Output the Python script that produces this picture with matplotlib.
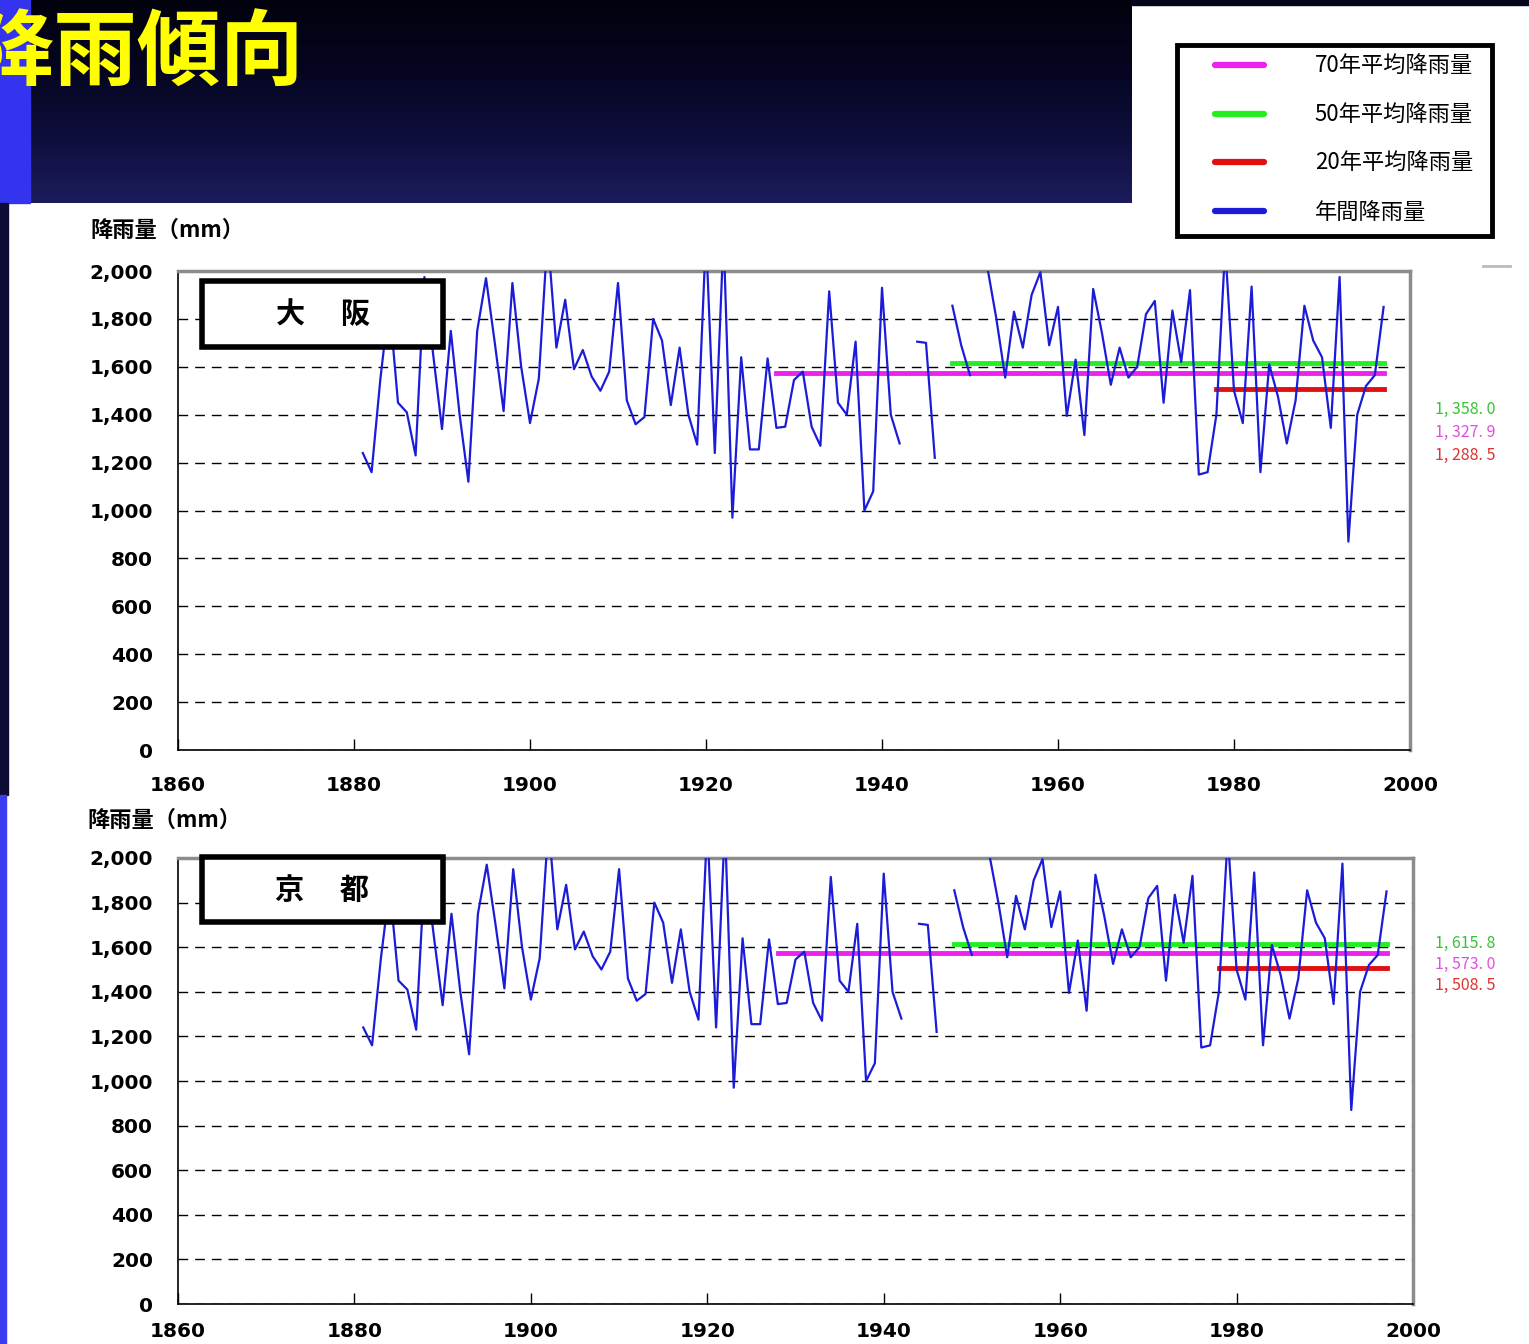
import numpy as np
import matplotlib
matplotlib.use("Agg")
import matplotlib.pyplot as plt
from matplotlib.colors import LinearSegmentedColormap
from matplotlib.patches import Rectangle

plt.rcParams['font.family'] = ['Noto Sans CJK JP', 'DejaVu Sans']

# yearly rainfall (mm), NaN = missing year
years = list(range(1881, 1998))
rain = [1240, 1160, 1550, 1870, 1450, 1410, 1230, 1975, 1650, 1340,
        1750, 1400, 1120, 1750, 1970, 1700, 1415, 1950, 1600, 1365,
        1550, 2150, 1680, 1880, 1590, 1670, 1560, 1500, 1580, 1950,
        1460, 1360, 1390, 1800, 1710, 1440, 1680, 1400, 1275, 2150,
        1240, 2150, 970, 1640, 1255, 1255, 1635, 1345, 1350, 1545,
        1580, 1350, 1270, 1915, 1450, 1400, 1705, 1000, 1080, 1930,
        1400, 1280, np.nan, 1705, 1700, 1220, np.nan, 1855, 1690, 1565,
        np.nan, 2010, 1800, 1555, 1830, 1680, 1900, 1995, 1690, 1850,
        1395, 1630, 1315, 1925, 1740, 1525, 1680, 1555, 1600, 1820,
        1875, 1450, 1835, 1620, 1920, 1150, 1160, 1400, 2100, 1500,
        1365, 1935, 1160, 1610, 1475, 1280, 1460, 1855, 1710, 1640,
        1345, 1975, 870, 1400, 1520, 1565, 1850]

# averages
avg_names = ['70年平均降雨量', '50年平均降雨量', '20年平均降雨量']
avg_start = [1928, 1948, 1978]
avg_end = [1997, 1997, 1997]
avg_value = [1573.0, 1615.8, 1508.5]
avg_color = ['#ee22ee', '#22ee22', '#e01010']
yr_name = '年間降雨量'
yr_color = '#1c1cd8'

stations = ['大　 阪', '京　 都']
osaka_labels = ['1, 358. 0', '1, 327. 9', '1, 288. 5']
kyoto_labels = ['1, 615. 8', '1, 573. 0', '1, 508. 5']
side_colors = ['#33c433', '#e050e0', '#e03030']

W, H = 1529, 1344
fig = plt.figure(figsize=(W / 100, H / 100), dpi=100)

# ---- slide background ----
bg = fig.add_axes([0, 0, 1, 1], zorder=-10)
bg.set_xlim(0, W)
bg.set_ylim(H, 0)
bg.axis('off')
bg.add_patch(Rectangle((0, 0), W, H, color='white'))
band = LinearSegmentedColormap.from_list('band', ['#02020e', '#050520', '#0e0e3c', '#1c1c5c'])
grad = np.linspace(0, 1, 256).reshape(-1, 1)
bg.imshow(grad, extent=(30, 1132, 203, 0), aspect='auto', cmap=band, zorder=1)
bg.add_patch(Rectangle((1132, 0), W - 1132, 5, color='#05051c', zorder=1))
bg.add_patch(Rectangle((0, 0), 30, 203, color='#3434ee', zorder=2))
bg.add_patch(Rectangle((0, 203), 8, 592, color='#0c0c34', zorder=2))
bg.add_patch(Rectangle((0, 795), 6, H - 795, color='#3c3cf0', zorder=2))
bg.plot([1483, 1510], [266, 266], color='#bbbbbb', lw=2, zorder=2)
bg.add_patch(Rectangle((1177, 45), 315, 191, fill=False, ec='black', lw=3.5, zorder=3))

fig.text(-30 / W, 1 - 55 / H, '降雨傾向', color='#ffff00', fontsize=60,
         fontweight='bold', ha='left', va='center')


def draw_panel(rect, station, side_labels, label_y, ylab_xy, box_rect, xpad):
    ax = fig.add_axes(rect)
    ax.plot(years, rain, color=yr_color, lw=1.6, zorder=4)
    for s, e, v, c in zip(avg_start, avg_end, avg_value, avg_color):
        ax.plot([s, e], [v, v], color=c, lw=3.5, zorder=3)
    ax.set_xlim(1860, 2000)
    ax.set_ylim(0, 2000)
    ax.set_xticks(range(1860, 2001, 20))
    ax.set_yticks(range(0, 2001, 200))
    ax.set_yticklabels([f'{v:,}' for v in range(0, 2001, 200)])
    ax.yaxis.grid(True, color='black', lw=1.0, linestyle=(0, (7, 5)))
    ax.set_axisbelow(True)
    ax.tick_params(axis='x', direction='in', length=8, width=1, pad=xpad, labelsize=14.5)
    ax.tick_params(axis='y', length=0, pad=18, labelsize=14.5)
    for t in ax.get_xticklabels() + ax.get_yticklabels():
        t.set_fontfamily('DejaVu Sans')
        t.set_fontweight('bold')
    ax.spines['left'].set_linewidth(1.2)
    ax.spines['bottom'].set_linewidth(1.2)
    for sp in ['top', 'right']:
        ax.spines[sp].set_color('#8c8c8c')
        ax.spines[sp].set_linewidth(2.5)
    ax.add_patch(Rectangle(box_rect[:2], box_rect[2], box_rect[3], transform=ax.transAxes,
                           fc='white', ec='black', lw=4, zorder=6, clip_on=False))
    ax.text(box_rect[0] + box_rect[2] / 2, box_rect[1] + box_rect[3] / 2, station,
            transform=ax.transAxes, ha='center', va='center', fontsize=21,
            fontweight='bold', zorder=7)
    fig.text(ylab_xy[0] / W, 1 - ylab_xy[1] / H, '降雨量（mm）', fontsize=16,
             fontweight='bold', ha='left', va='center')
    for txt, y, c in zip(side_labels, label_y, side_colors):
        fig.text(1435 / W, 1 - y / H, txt, color=c, fontsize=11.5, ha='left', va='center')
    return ax


ax1 = draw_panel([178 / W, 1 - 750 / H, 1232 / W, 479 / H], stations[0], osaka_labels,
                 [409, 432, 455], (90, 230), (0.0195, 0.8413, 0.1956, 0.1378), 19)
ax2 = draw_panel([178 / W, 1 - 1304 / H, 1235 / W, 446 / H], stations[1], kyoto_labels,
                 [943, 964, 985], (87, 820), (0.0194, 0.8565, 0.1951, 0.1455), 13)

# ---- legend ----
handles = ax1.get_lines()
order = [1, 2, 3, 0]
leg = fig.legend([handles[i] for i in order], avg_names + [yr_name],
                 loc='center', bbox_to_anchor=(1344 / W, 1 - 139.5 / H),
                 frameon=False, fontsize=16, handlelength=2.2, handletextpad=2.3,
                 labelspacing=1.15)
for ln in leg.get_lines():
    ln.set_linewidth(4.5)
    ln.set_solid_capstyle('round')

fig.savefig('out.png', dpi=100)
